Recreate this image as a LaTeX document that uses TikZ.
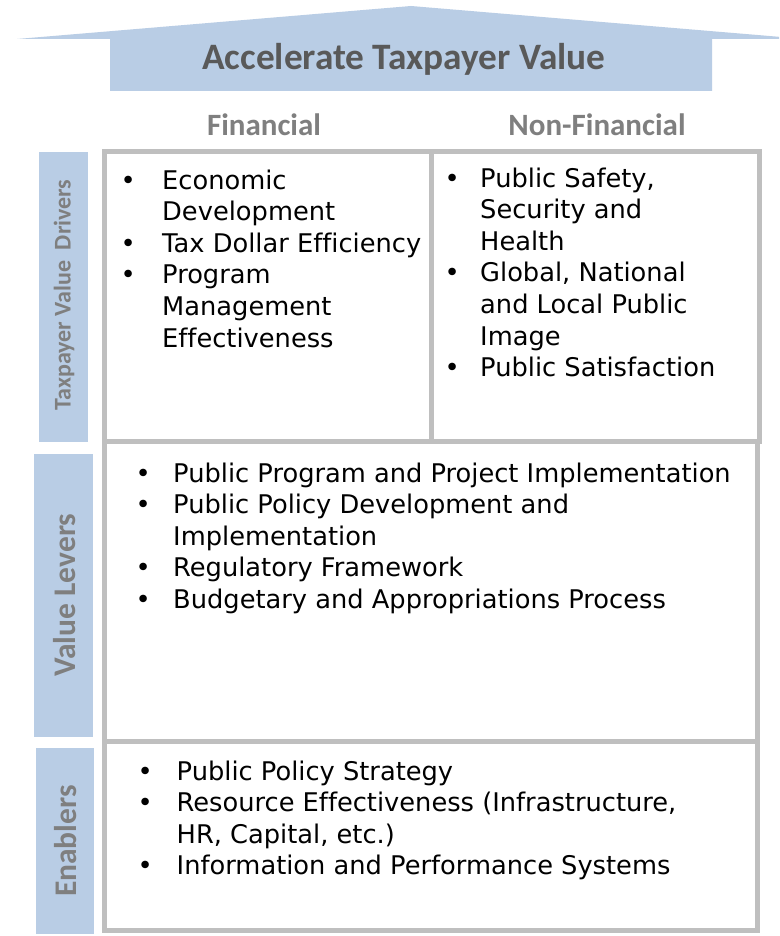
\documentclass[tikz,border=0pt]{standalone}
\usepackage{fontspec}
\setmainfont[Ligatures=NoCommon]{DejaVu Sans}
\newfontfamily\headfont{Carlito}
\definecolor{barblue}{HTML}{B9CDE5}
\definecolor{titlegray}{HTML}{595959}
\definecolor{headgray}{HTML}{7F7F7F}
\definecolor{linegray}{HTML}{BFBFBF}
\newcommand{\bul}[1]{\makebox[#1][l]{\textbullet}}
\newcommand{\ind}[1]{\hspace*{#1}}
\tikzset{
  gridline/.style={draw=linegray, line width=5pt},
  headtext/.style={font=\headfont\bfseries\fontsize{31}{34}\selectfont, text=headgray, anchor=base},
  sidetext/.style={font=\headfont\bfseries, text=headgray, rotate=90, inner sep=0pt},
  bodytext/.style={font=\fontsize{25.7}{31.6}\selectfont, align=left, anchor=north west, inner sep=0pt}
}
\begin{document}
\begin{tikzpicture}[x=1pt,y=-1pt]
\fill[white] (0,0) rectangle (779,936);
\useasboundingbox (0,0) rectangle (779,936);
% top arrow
\fill[barblue] (17,39) -- (411,6) -- (779,36.8) -- (779,39) -- (712,39) -- (712,91) -- (110,91) -- (110,39) -- cycle;
\node[font=\headfont\bfseries\fontsize{37.3}{40}\selectfont, text=titlegray, anchor=base] (title) at (404,70) {Accelerate Taxpayer Value};
\node[headtext] (fin) at (264,136) {Financial};
\node[headtext] (nonfin) at (597,136) {Non-Financial};
% side bars
\fill[barblue] (39,152) rectangle (88,442);
\fill[barblue] (34,454) rectangle (93,737);
\fill[barblue] (36,748) rectangle (94,934);
\node[sidetext, font=\headfont\bfseries\fontsize{24}{26}\selectfont] (drivers) at (64,295) {Taxpayer Value\ \ Drivers};
\node[sidetext, font=\headfont\bfseries\fontsize{31.5}{34}\selectfont] (levers) at (65,595) {Value Levers};
\node[sidetext, font=\headfont\bfseries\fontsize{31.5}{34}\selectfont] (enablers) at (66,841) {Enablers};
% grid
\draw[gridline] (104.5,152) rectangle (759,441.5);
\draw[gridline] (431.5,152) -- (431.5,441.5);
\draw[gridline] (104.5,441.5) rectangle (757,741.5);
\draw[gridline] (104.5,741.5) rectangle (757,930.5);
% texts
\node[bodytext] (fintext) at (120.5,166.8) {\strut\bul{41.5pt}Economic\\
\ind{41.5pt}Development\\
\bul{41.5pt}Tax Dollar Efficiency\\
\bul{41.5pt}Program\\
\ind{41.5pt}Management\\
\ind{41.5pt}Effectiveness};
\node[bodytext] (nonfintext) at (444.5,164.8) {\strut\bul{35.5pt}Public Safety,\\
\ind{35.5pt}Security and\\
\ind{35.5pt}Health\\
\bul{35.5pt}Global, National\\
\ind{35.5pt}and Local Public\\
\ind{35.5pt}Image\\
\bul{35.5pt}Public Satisfaction};
\node[bodytext] (levertext) at (135.5,459.8) {\strut\bul{37.5pt}Public Program and Project Implementation\\
\bul{37.5pt}Public Policy Development and\\
\ind{37.5pt}Implementation\\
\bul{37.5pt}Regulatory Framework\\
\bul{37.5pt}Budgetary and Appropriations Process};
\node[bodytext] (enabtext) at (137.5,757.8) {\strut\bul{39pt}Public Policy Strategy\\
\bul{39pt}Resource Effectiveness (Infrastructure,\\
\ind{39pt}HR, Capital, etc.)\\
\bul{39pt}Information and Performance Systems};
\end{tikzpicture}
\end{document}
